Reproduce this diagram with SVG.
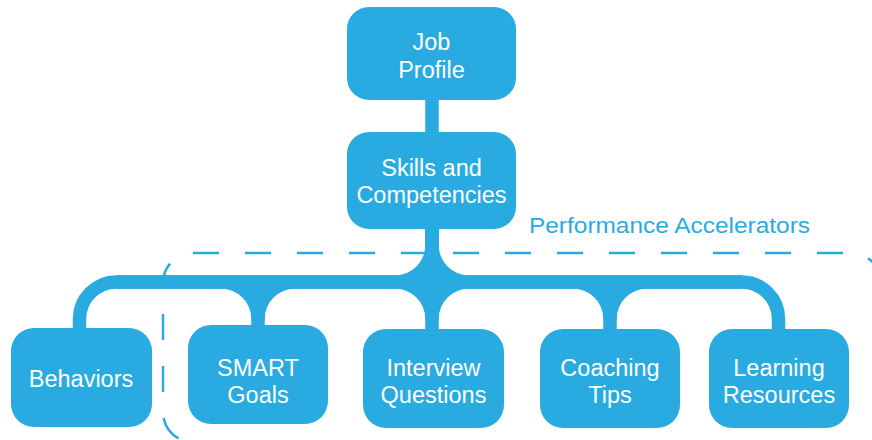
<svg xmlns="http://www.w3.org/2000/svg" width="872" height="440" viewBox="0 0 872 440">
<style>
  .box { fill: #29ABE2; }
  .lbl { fill: #FFFFFF; font-family: "Liberation Sans", Arial, sans-serif; font-size: 23.5px; text-anchor: middle; }
  .conn { fill: none; stroke: #29ABE2; stroke-width: 13.5; }
  .dash { fill: none; stroke: #29ABE2; stroke-width: 2.5; stroke-dasharray: 26 26; }
  .title { fill: #29ABE2; font-family: "Liberation Sans", Arial, sans-serif; font-size: 22px; }
</style>
<rect width="872" height="440" fill="#FFFFFF"/>
<g id="bracket">
  <path class="dash" d="M193 253 H851 A30 30 0 0 1 881 283 V460"/>
  <path class="dash" style="stroke-dashoffset:26" d="M193 253 A30 30 0 0 0 163 283 V412 A30 30 0 0 0 193 442 H900"/>
  <text class="title" x="529" y="233" textLength="281" lengthAdjust="spacingAndGlyphs">Performance Accelerators</text>
</g>
<g id="connectors">
  <path class="conn" d="M432 95 V137"/>
  <path class="conn" d="M432 225 V245 A37 37 0 0 1 395 282 H116.5 A37 37 0 0 0 79.5 319 V335"/>
  <path class="conn" d="M432 225 V245 A37 37 0 0 0 469 282 H741.5 A37 37 0 0 1 778.5 319 V335"/>
  <path class="conn" d="M116.5 282 H741.5"/>
  <path class="conn" d="M432 225 V335"/>
  <path class="conn" d="M395 282 A37 37 0 0 1 432 319"/>
  <path class="conn" d="M469 282 A37 37 0 0 0 432 319"/>
  <path class="conn" d="M221 282 A37 37 0 0 1 258 319"/>
  <path class="conn" d="M295 282 A37 37 0 0 0 258 319"/>
  <path class="conn" d="M258 282 V335"/>
  <path class="conn" d="M573 282 A37 37 0 0 1 610 319"/>
  <path class="conn" d="M647 282 A37 37 0 0 0 610 319"/>
  <path class="conn" d="M610 282 V335"/>
</g>
<g id="job-profile">
  <rect class="box" x="347" y="7" width="169" height="93" rx="22"/>
  <text class="lbl" x="431.5" y="50">Job</text>
  <text class="lbl" x="431.5" y="78">Profile</text>
</g>
<g id="skills">
  <rect class="box" x="347" y="132" width="169" height="97" rx="22"/>
  <text class="lbl" x="431.5" y="176">Skills and</text>
  <text class="lbl" x="431.5" y="203">Competencies</text>
</g>
<g id="behaviors">
  <rect class="box" x="11" y="328" width="141" height="99" rx="23"/>
  <text class="lbl" x="81" y="387">Behaviors</text>
</g>
<g id="smart-goals">
  <rect class="box" x="188" y="325" width="140" height="99" rx="23"/>
  <text class="lbl" x="258" y="375.5">SMART</text>
  <text class="lbl" x="258" y="402.5">Goals</text>
</g>
<g id="interview-questions">
  <rect class="box" x="363" y="329" width="141" height="99" rx="23"/>
  <text class="lbl" x="433.5" y="375.5">Interview</text>
  <text class="lbl" x="433.5" y="402.5">Questions</text>
</g>
<g id="coaching-tips">
  <rect class="box" x="540" y="329" width="140" height="99" rx="23"/>
  <text class="lbl" x="610" y="375.5">Coaching</text>
  <text class="lbl" x="610" y="402.5">Tips</text>
</g>
<g id="learning-resources">
  <rect class="box" x="709" y="329" width="140" height="99" rx="23"/>
  <text class="lbl" x="779" y="375.5">Learning</text>
  <text class="lbl" x="779" y="402.5">Resources</text>
</g>
</svg>
